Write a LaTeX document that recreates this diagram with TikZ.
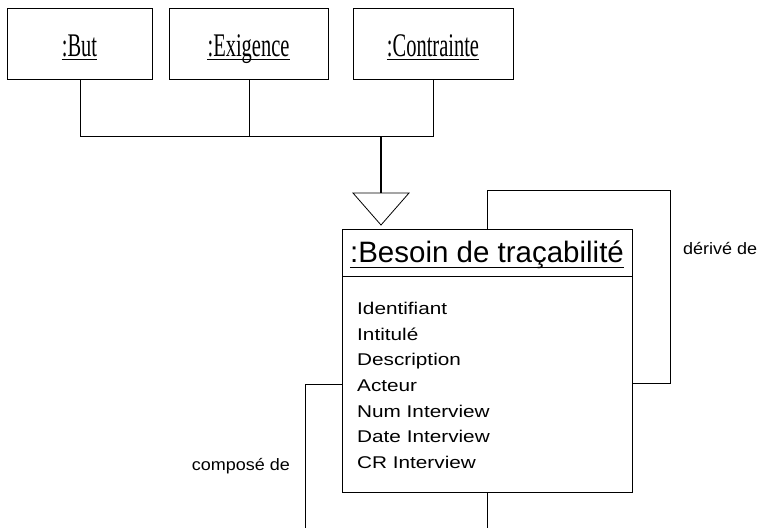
\documentclass[tikz,border=0pt]{standalone}
\usepackage{fontspec}
\setmainfont{Liberation Serif}
\setsansfont{Liberation Sans}
\newfontfamily\narrowserif[FakeStretch=0.62]{Liberation Serif}
\newfontfamily\widesans[FakeStretch=1.22]{Liberation Sans}
\newfontfamily\lblsans[FakeStretch=1.09]{Liberation Sans}
\begin{document}
\begin{tikzpicture}[x=1pt,y=-1pt,
  box/.style={draw,line width=1pt,inner sep=0pt,anchor=north west},
  wire/.style={draw,line width=0.8pt},
  toptxt/.style={font=\narrowserif\fontsize{33}{36}\selectfont,anchor=base,inner sep=0pt},
  lbl/.style={font=\lblsans\fontsize{16.5}{18}\selectfont,anchor=base west,inner sep=0pt},
  attr/.style={font=\widesans\fontsize{17}{20}\selectfont,anchor=base west,inner sep=0pt},
  uline/.style={line width=0.9pt}]
\useasboundingbox (0,0) rectangle (761,528);
% top boxes
\node[box,minimum width=145pt,minimum height=71pt] (but) at (7,8) {};
\node[toptxt] (tbut) at (79.5,56) {:But};
\node[box,minimum width=159pt,minimum height=71pt] (exi) at (169,8) {};
\node[toptxt] (texi) at (248.5,56) {:Exigence};
\node[box,minimum width=160pt,minimum height=71pt] (con) at (353,8) {};
\node[toptxt] (tcon) at (433,56) {:Contrainte};
\foreach \n in {tbut,texi,tcon}
  \draw[uline] ([yshift=-3pt]\n.base west) -- ([yshift=-3pt]\n.base east);
% joining lines
\coordinate (jb) at (80,136);
\coordinate (jc) at (433,136);
\coordinate (je) at (249,136);
\coordinate (jm) at (381,136);
\draw[wire] (but.south -| jb) -- (jb) -- (jc) -- (con.south -| jc);
\draw[wire] (exi.south -| je) -- (je);
% besoin box
\node[box,minimum width=290pt,minimum height=263pt] (bes) at (342,229) {};
\coordinate (tri) at (381,193);
\draw[line width=1.6pt] (jm) -- (tri);
\draw[line width=0.8pt] (353,193) -- (409,193) -- (381,225) -- cycle;
\draw[line width=1pt] (342,276) -- (632,276);
\node[font=\sffamily\fontsize{29.5}{32}\selectfont,anchor=base,inner sep=0pt] (ttl) at (487,262) {:Besoin de traçabilité};
\draw[uline] ([yshift=-5pt]ttl.base west) -- ([yshift=-5pt]ttl.base east);
\node[attr] (a1) at (357,314) {Identifiant};
\node[attr] (a2) at (357,340) {Intitulé};
\node[attr] (a3) at (357,365.5) {Description};
\node[attr] (a4) at (357,391) {Acteur};
\node[attr] (a5) at (357,417) {Num Interview};
\node[attr] (a6) at (357,442.5) {Date Interview};
\node[attr] (a7) at (357,468) {CR Interview};
% derive loop
\coordinate (d1) at (487,190);
\coordinate (d2) at (670,190);
\coordinate (d3) at (670,383);
\draw[wire] (bes.north -| d1) -- (d1) -- (d2) -- (d3) -- (bes.east |- d3);
\node[lbl] (dl) at (683,254) {dérivé de};
% compose loop
\coordinate (c1) at (305,384);
\coordinate (c2) at (305,528);
\coordinate (c3) at (487,528);
\draw[wire] (bes.west |- c1) -- (c1) -- (c2);
\draw[wire] (bes.south -| c3) -- (c3);
\node[lbl,anchor=base east] (cl) at (290,470) {composé de};
\end{tikzpicture}
\end{document}
